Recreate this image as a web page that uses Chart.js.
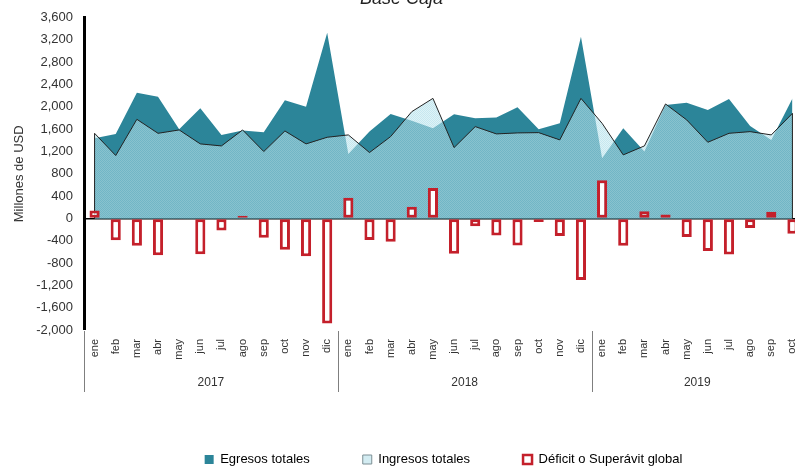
<!DOCTYPE html>
<html>
<head>
<meta charset="utf-8">
<script src="https://cdn.jsdelivr.net/npm/chart.js@4.4.1/dist/chart.umd.min.js"></script>
<style>
  html, body { margin: 0; padding: 0; background: #fff; overflow: hidden; width: 795px; height: 467px; }
  #wrap { position: absolute; left: 0; top: -14px; width: 812px; height: 490px; }
</style>
</head>
<body>
<div id="wrap"><canvas id="chart" width="812" height="490"></canvas></div>
<script>
const months = ['ene', 'feb', 'mar', 'abr', 'may', 'jun', 'jul', 'ago', 'sep', 'oct', 'nov', 'dic'];
const years = ['2017', '2018', '2019'];
const yearCounts = [12, 12, 10];
const labels = [...months, ...months, ...months.slice(0, 10)];

const egresos = [
  1437, 1515, 2254, 2183, 1598, 1973, 1497, 1574, 1544, 2117, 2004, 3328,
  1157, 1560, 1873, 1753, 1616, 1866, 1794, 1807, 1991, 1598, 1705, 3256,
  1079, 1616, 1199, 2034, 2075, 1944, 2141, 1658, 1408, 2152
];
const ingresos = [
  1526, 1127, 1777, 1526, 1586, 1336, 1300, 1586, 1199, 1568, 1336, 1455,
  1497, 1181, 1467, 1914, 2152, 1270, 1646, 1515, 1533, 1538, 1408, 2152,
  1705, 1139, 1300, 2052, 1766, 1365, 1526, 1556, 1497, 1884
];
const deficit = [
  140, -390, -490, -660, -20, -640, -215, 50, -345, -560, -680, -1885,
  370, -385, -420, 210, 545, -635, -140, -305, -485, -65, -315, -1105,
  685, -490, 130, 70, -335, -585, -645, -170, 120, -275
];

const TEAL = '#2c8599';
const RED = '#c4202b';
const TXT = '#333333';

// light blue dotted fill, semi transparent so the teal shows through
function dotPattern() {
  const c = document.createElement('canvas');
  c.width = 2; c.height = 2;
  const g = c.getContext('2d');
  g.fillStyle = 'rgba(160,215,228,0.6)';
  g.fillRect(0, 0, 1, 1); g.fillRect(1, 1, 1, 1);
  g.fillStyle = 'rgba(200,235,242,0.6)';
  g.fillRect(1, 0, 1, 1); g.fillRect(0, 1, 1, 1);
  return document.getElementById('chart').getContext('2d').createPattern(c, 'repeat');
}

// year row under the month labels
const yearAxis = {
  id: 'yearAxis',
  afterDraw(chart) {
    const { ctx } = chart;
    const x = chart.scales.x;
    const half = (x.getPixelForValue(1) - x.getPixelForValue(0)) / 2;
    ctx.save();
    ctx.strokeStyle = '#7f7f7f';
    ctx.lineWidth = 1;
    ctx.fillStyle = TXT;
    ctx.font = '12px "Liberation Sans", Arial, sans-serif';
    ctx.textAlign = 'center';
    ctx.textBaseline = 'middle';
    let start = 0;
    years.forEach((yr, i) => {
      const end = start + yearCounts[i] - 1;
      const lx = Math.round(x.getPixelForValue(start) - half) + 0.5;
      ctx.beginPath();
      ctx.moveTo(lx, x.top + 1);
      ctx.lineTo(lx, x.top + 62);
      ctx.stroke();
      ctx.fillText(yr, (x.getPixelForValue(start) + x.getPixelForValue(end)) / 2, x.top + 53);
      start = end + 1;
    });
    ctx.restore();
  }
};

// closing edges of the ingresos area
const areaEdges = {
  id: 'areaEdges',
  afterDatasetDraw(chart, args) {
    if (args.index !== 1) return;
    const { ctx } = chart;
    const { x, y } = chart.scales;
    const y0 = y.getPixelForValue(0);
    ctx.save();
    ctx.strokeStyle = '#222';
    ctx.lineWidth = 1;
    [0, ingresos.length - 1].forEach(i => {
      const px = x.getPixelForValue(i);
      ctx.beginPath();
      ctx.moveTo(px, y.getPixelForValue(ingresos[i]));
      ctx.lineTo(px, y0);
      ctx.stroke();
    });
    ctx.restore();
  }
};

new Chart(document.getElementById('chart'), {
  type: 'bar',
  data: {
    labels: labels,
    datasets: [
      {
        type: 'line',
        label: 'Egresos totales',
        data: egresos,
        backgroundColor: TEAL,
        borderColor: 'rgba(0,0,0,0)',
        borderWidth: 0,
        pointRadius: 0,
        fill: 'origin',
        tension: 0,
        order: 3
      },
      {
        type: 'line',
        label: 'Ingresos totales',
        data: ingresos,
        backgroundColor: dotPattern(),
        borderColor: '#222',
        borderWidth: 1,
        pointRadius: 0,
        fill: 'origin',
        tension: 0,
        order: 2
      },
      {
        label: 'Déficit o Superávit global',
        data: deficit,
        backgroundColor: '#ffffff',
        borderColor: RED,
        borderWidth: 3,
        borderSkipped: false,
        categoryPercentage: 1,
        barPercentage: 0.48,
        order: 1
      }
    ]
  },
  options: {
    responsive: false,
    devicePixelRatio: 1,
    animation: false,
    layout: { padding: { left: 0, right: 9, top: 0, bottom: 0 } },
    plugins: {
      tooltip: { enabled: false },
      title: {
        display: true,
        text: 'Base Caja',
        color: '#222',
        font: { family: '"Liberation Sans", Arial, sans-serif', size: 18, style: 'italic', weight: 'normal' },
        padding: { top: 2, bottom: 8 }
      },
      legend: {
        position: 'bottom',
        fullSize: false,
        labels: {
          boxWidth: 9,
          boxHeight: 9,
          padding: 53,
          color: TXT,
          font: { family: '"Liberation Sans", Arial, sans-serif', size: 13 },
          generateLabels(chart) {
            const ds = chart.data.datasets;
            return [
              { text: ds[0].label, fillStyle: TEAL, strokeStyle: TEAL, lineWidth: 0, datasetIndex: 0 },
              { text: ds[1].label, fillStyle: '#d3ecf2', strokeStyle: '#7d8f95', lineWidth: 1, datasetIndex: 1 },
              { text: ds[2].label, fillStyle: '#ffffff', strokeStyle: RED, lineWidth: 2.5, datasetIndex: 2 }
            ];
          }
        }
      }
    },
    scales: {
      x: {
        offset: true,
        grid: { display: false },
        border: { display: false },
        ticks: {
          autoSkip: false,
          minRotation: 90,
          maxRotation: 90,
          padding: 1,
          color: TXT,
          font: { family: '"Liberation Sans", Arial, sans-serif', size: 11 }
        },
        afterFit(s) { s.height = 70; }
      },
      y: {
        min: -2000,
        max: 3600,
        ticks: {
          stepSize: 400,
          padding: 11,
          color: TXT,
          font: { family: '"Liberation Sans", Arial, sans-serif', size: 13 },
          callback: v => v.toLocaleString('en-US')
        },
        grid: {
          drawTicks: false,
          color: c => (c.tick && c.tick.value === 0) ? '#000' : 'rgba(0,0,0,0)',
          lineWidth: c => (c.tick && c.tick.value === 0) ? 1.5 : 0
        },
        border: { display: true, color: '#000', width: 3 },
        title: {
          display: true,
          text: 'Millones de USD',
          color: TXT,
          font: { family: '"Liberation Sans", Arial, sans-serif', size: 13 },
          padding: { top: 12, bottom: 0 }
        },
        afterFit(s) { s.width = 84; }
      }
    }
  },
  plugins: [areaEdges, yearAxis]
});
</script>
</body>
</html>
